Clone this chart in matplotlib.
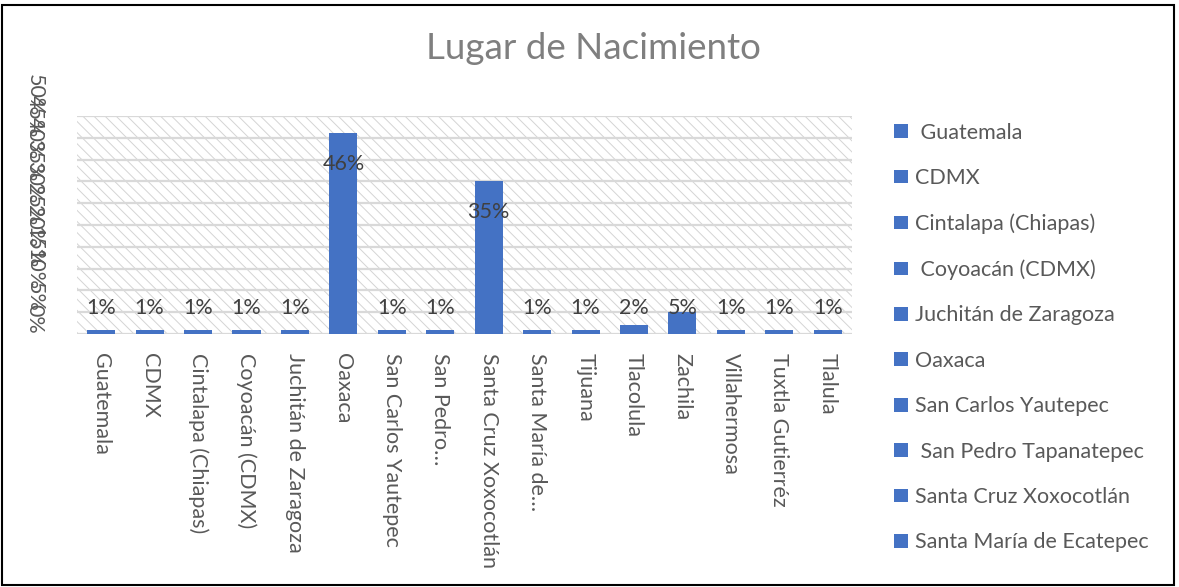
import matplotlib
matplotlib.use("Agg")
import matplotlib.pyplot as plt
from matplotlib.patches import Rectangle

# data
places = ["Guatemala", "CDMX", "Cintalapa (Chiapas)", "Coyoacán (CDMX)",
          "Juchitán de Zaragoza", "Oaxaca", "San Carlos Yautepec",
          "San Pedro Tapanatepec", "Santa Cruz Xoxocotlán",
          "Santa María de Ecatepec", "Tijuana", "Tlacolula", "Zachila",
          "Villahermosa", "Tuxtla Gutierréz", "Tlalula"]
tick_names = ["Guatemala", "CDMX", "Cintalapa (Chiapas)", "Coyoacán (CDMX)",
              "Juchitán de Zaragoza", "Oaxaca", "San Carlos Yautepec",
              "San Pedro…", "Santa Cruz Xoxocotlán", "Santa María de…",
              "Tijuana", "Tlacolula", "Zachila", "Villahermosa",
              "Tuxtla Gutierréz", "Tlalula"]
legend_names = [" Guatemala", "CDMX", "Cintalapa (Chiapas)", " Coyoacán (CDMX)",
                "Juchitán de Zaragoza", "Oaxaca", "San Carlos Yautepec",
                " San Pedro Tapanatepec", "Santa Cruz Xoxocotlán",
                "Santa María de Ecatepec"]
pct = [1, 1, 1, 1, 1, 46, 1, 1, 35, 1, 1, 2, 5, 1, 1, 1]
yticks = [0, 5, 10, 15, 20, 25, 30, 35, 40, 45, 50]

plt.rcParams['font.family'] = ['Lato', 'DejaVu Sans']
plt.rcParams['hatch.linewidth'] = 0.7
plt.rcParams['hatch.color'] = '#d4d4d4'

blue = '#4472C4'
txt = '#595959'
fs = 15.5

fig = plt.figure(figsize=(11.79, 5.87), dpi=100)
ax = fig.add_axes([0.0653, 0.431, 0.6573, 0.3714])

# hatched plot area
ax.add_patch(Rectangle((0, -0.01), 1, 1.01, transform=ax.transAxes, fill=False,
                       hatch='\\\\\\', edgecolor='#d4d4d4', linewidth=0, zorder=0))
for t in yticks:
    ax.axhline(t, color='#d9d9d9', linewidth=1.6, zorder=1)

x = list(range(len(pct)))
bars = ax.bar(x, pct, width=0.58, color=blue, zorder=3)

for xi, v in zip(x, pct):
    ly = v - 7 if v > 10 else 6
    ax.text(xi, ly, f"{v}%", ha='center', va='center', fontsize=fs,
            color='#404040', zorder=4)

ax.set_xlim(-0.5, len(pct) - 0.5)
ax.set_ylim(0, 50)
ax.set_xticks(x)
ax.set_xticklabels(tick_names, rotation=-90, fontsize=fs, color=txt,
                   va='top', ha='center')
ax.set_yticks(yticks)
ax.set_yticklabels([f"{t}%" for t in yticks], rotation=-90, fontsize=fs,
                   color=txt, va='bottom', ha='center')
ax.tick_params(axis='both', length=0)
ax.tick_params(axis='x', pad=14)
ax.tick_params(axis='y', pad=0)
for lbl in ax.get_yticklabels():
    lbl.set_x(-0.055)
for s in ax.spines.values():
    s.set_visible(False)

fig.text(0.503, 0.918, "Lugar de Nacimiento", ha='center', va='center',
         fontsize=26.5, color='#7f7f7f')

fig.legend(bars.patches[:10], legend_names, loc='upper left',
           bbox_to_anchor=(0.742, 0.824), frameon=False, fontsize=fs,
           labelcolor=txt, handlelength=0.62, handleheight=0.62,
           handletextpad=0.35, labelspacing=1.18)

# outer chart border
fig.add_artist(Rectangle((0.002, 0.004), 0.994, 0.988, transform=fig.transFigure,
                         fill=False, edgecolor='black', linewidth=1.5))

fig.savefig("out.png", dpi=100)
